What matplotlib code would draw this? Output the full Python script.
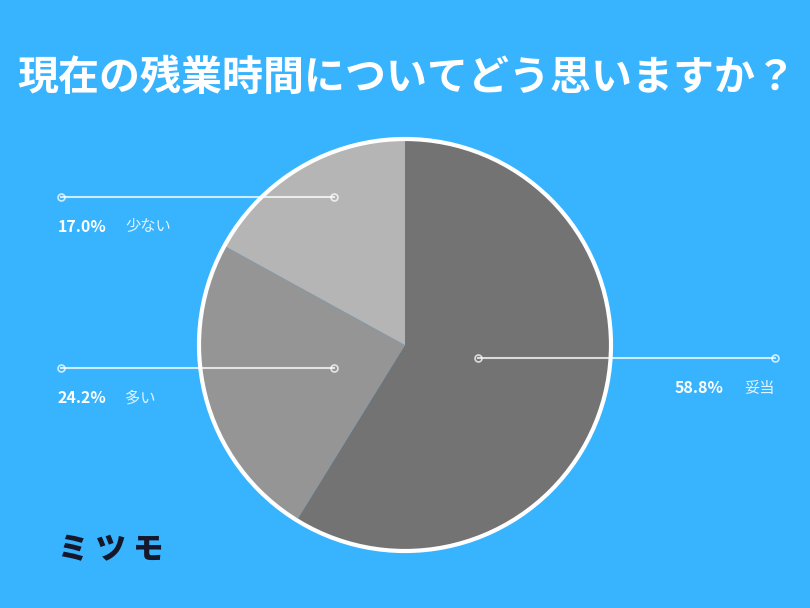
import matplotlib
matplotlib.use("Agg")
import matplotlib.pyplot as plt
from matplotlib.patches import Circle

plt.rcParams['font.family'] = ['Noto Sans CJK JP', 'DejaVu Sans']

# data
title = "現在の残業時間についてどう思いますか？"
labels = ["妥当", "多い", "少ない"]
values = [58.8, 24.2, 17.0]
colors = ["#737373", "#959595", "#b5b5b5"]

BG = "#38b4ff"
W, H = 810, 608

fig = plt.figure(figsize=(W / 100, H / 100), dpi=100, facecolor=BG)
ax = fig.add_axes([0, 0, 1, 1])
ax.set_facecolor(BG)

cx, cy, r = 405, H - 345, 206
ax.pie(values, colors=colors, startangle=90, counterclock=False,
       center=(cx, cy), radius=r,
       wedgeprops=dict(linewidth=0))
# white rim only round the outside
ax.add_patch(Circle((cx, cy), r, fill=False, edgecolor="white", lw=3, zorder=3))
ax.set_xlim(0, W)
ax.set_ylim(0, H)
ax.set_aspect("equal")
ax.axis("off")

ax.text(W / 2 + 2, H - 78, title, ha="center", va="center", color="white",
        fontsize=29.5, fontweight="bold")

# leader lines: (x0, x1, y) in pixels, label anchor
leaders = {
    "妥当": (478, 775, 358, "right"),
    "多い": (61, 334, 368, "left"),
    "少ない": (61, 334, 197, "left"),
}
for lab, val in zip(labels, values):
    x0, x1, y, side = leaders[lab]
    ax.plot([x0, x1], [H - y, H - y], color="white", alpha=0.75, lw=1.5,
            marker="o", markersize=5, markerfacecolor="none",
            markeredgecolor="white", markeredgewidth=1.2, zorder=4)
    ty = H - y - 30
    pct = f"{val:.1f}%"
    if side == "left":
        ax.text(x0 - 3, ty, pct, ha="left", va="center", color="white",
                fontsize=11.5, fontweight="bold")
        ax.text(x0 + 64, ty, lab, ha="left", va="center", color="white",
                alpha=0.85, fontsize=11)
    else:
        ax.text(x1, ty, lab, ha="right", va="center", color="white",
                alpha=0.85, fontsize=11)
        ax.text(x1 - 52, ty, pct, ha="right", va="center", color="white",
                fontsize=11.5, fontweight="bold")

ax.text(58, H - 550, "ミ ツ モ", ha="left", va="center", color="#15172b",
        fontsize=22, fontweight="black")

fig.savefig("out.png", dpi=100, facecolor=BG)
